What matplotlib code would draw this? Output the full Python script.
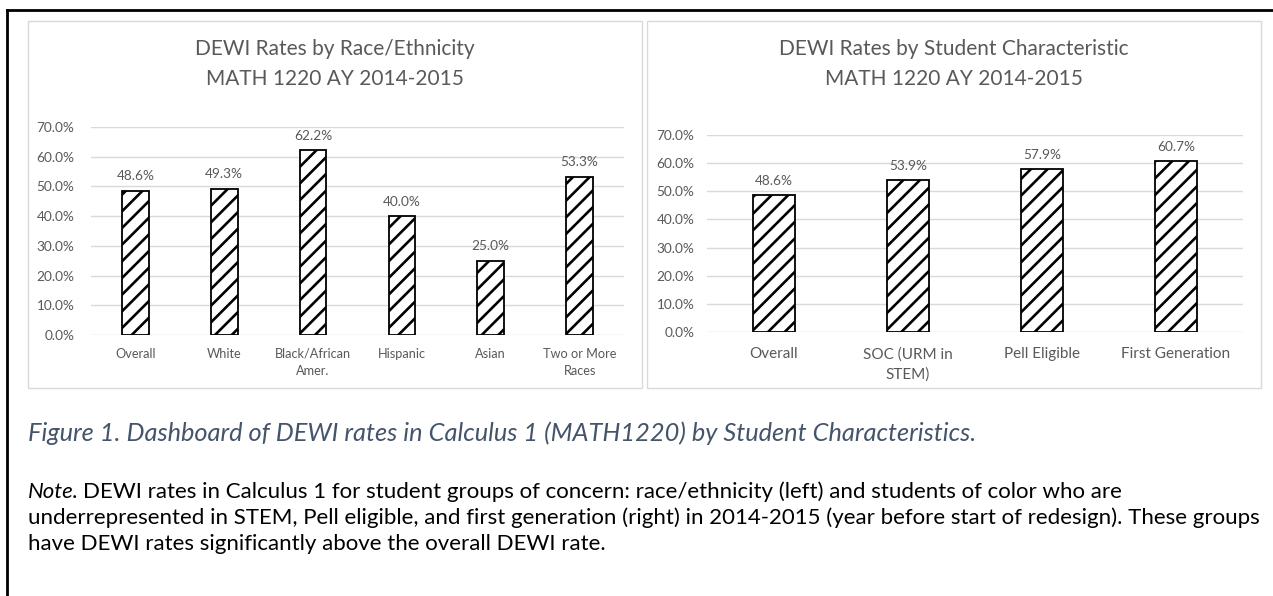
import matplotlib
matplotlib.use("Agg")
import matplotlib.pyplot as plt
from matplotlib.patches import Rectangle
from matplotlib.lines import Line2D

# data
race_cats = ["Overall", "White", "Black/African\nAmer.", "Hispanic", "Asian", "Two or More\nRaces"]
race_vals = [48.6, 49.3, 62.2, 40.0, 25.0, 53.3]
char_cats = ["Overall", "SOC (URM in\nSTEM)", "Pell Eligible", "First Generation"]
char_vals = [48.6, 53.9, 57.9, 60.7]
yticks = [0, 10, 20, 30, 40, 50, 60, 70]

title_left = "DEWI Rates by Race/Ethnicity\nMATH 1220 AY 2014-2015"
title_right = "DEWI Rates by Student Characteristic\nMATH 1220 AY 2014-2015"
caption = "Figure 1. Dashboard of DEWI rates in Calculus 1 (MATH1220) by Student Characteristics."
note_lines = [
    "DEWI rates in Calculus 1 for student groups of concern: race/ethnicity (left) and students of color who are",
    "underrepresented in STEM, Pell eligible, and first generation (right) in 2014-2015 (year before start of redesign). These groups",
    "have DEWI rates significantly above the overall DEWI rate.",
]

plt.rcParams['font.family'] = ['Lato', 'DejaVu Sans']
plt.rcParams['hatch.linewidth'] = 1.9

W, H = 1273, 596
fig = plt.figure(figsize=(W / 100, H / 100), dpi=100)

def fx(px):
    return px / W

def fy(py):
    return 1 - py / H

grey = "#595959"
grid = "#d9d9d9"

# outer frame (top + left visible)
fig.add_artist(Line2D([fx(7), fx(1273)], [fy(10), fy(10)], color="black", lw=2))
fig.add_artist(Line2D([fx(7), fx(7)], [fy(10), fy(596)], color="black", lw=2))

# panel boxes
for x0, x1 in [(28, 642), (647, 1261)]:
    fig.add_artist(Rectangle((fx(x0), fy(388)), fx(x1) - fx(x0), fy(21) - fy(388),
                             transform=fig.transFigure, fill=False, edgecolor=grid, lw=1))


def panel(ax, cats, vals, width, xfs, ypad, xpad):
    x = range(len(cats))
    ax.bar(x, vals, width=width, color="white", edgecolor="black", hatch="//", lw=1.3, zorder=3)
    for i, v in zip(x, vals):
        ax.annotate(f"{v:.1f}%", (i, v), xytext=(0, 6), textcoords="offset points",
                    ha="center", va="bottom", fontsize=9.8, color=grey)
    ax.set_xlim(-0.5, len(cats) - 0.5)
    ax.set_ylim(0, 70)
    ax.set_yticks(yticks)
    ax.set_yticklabels([f"{t:.1f}%" for t in yticks], fontsize=9.8, color=grey)
    ax.set_xticks(list(x))
    ax.set_xticklabels(cats, fontsize=xfs, color=grey, linespacing=1.5)
    ax.tick_params(axis="y", length=0, pad=ypad)
    ax.tick_params(axis="x", length=0, pad=xpad)
    ax.grid(axis="y", color=grid, lw=1)
    ax.set_axisbelow(True)
    for s in ax.spines.values():
        s.set_visible(False)


axl = fig.add_axes([fx(91), fy(335), fx(624) - fx(91), fy(127) - fy(335)])
panel(axl, race_cats, race_vals, 0.30, 9.2, 12, 9)
axr = fig.add_axes([fx(707), fy(332), fx(1243) - fx(707), fy(135) - fy(332)])
panel(axr, char_cats, char_vals, 0.32, 11, 9, 11)

fig.text(fx(335), fy(64), title_left, ha="center", va="center", fontsize=15,
         color=grey, linespacing=1.62)
fig.text(fx(954), fy(64), title_right, ha="center", va="center", fontsize=15,
         color=grey, linespacing=1.62)

fig.text(fx(28), fy(433), caption, ha="left", va="center", fontsize=18.3,
         style="italic", color="#44546A")

r = fig.canvas.get_renderer()
t = fig.text(fx(28), fy(492), "Note.", ha="left", va="center", fontsize=16,
             style="italic", color="black")
bb = t.get_window_extent(renderer=r)
fig.text((bb.x1 + 4) / W, fy(492), note_lines[0], ha="left", va="center", fontsize=16, color="black")
fig.text(fx(28), fy(518), note_lines[1], ha="left", va="center", fontsize=16, color="black")
fig.text(fx(28), fy(544), note_lines[2], ha="left", va="center", fontsize=16, color="black")

fig.savefig("out.png", dpi=100)
